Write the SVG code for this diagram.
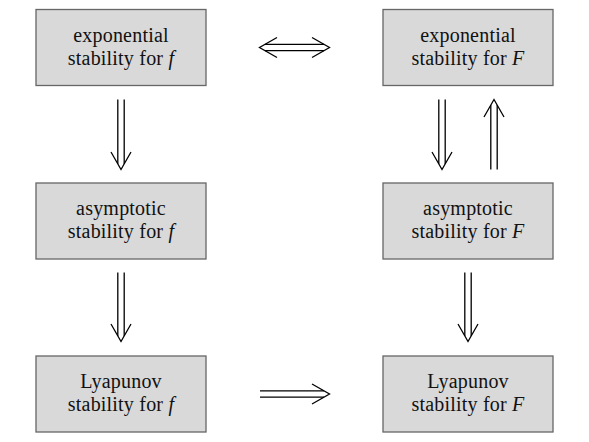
<svg xmlns="http://www.w3.org/2000/svg" width="589" height="442" viewBox="0 0 589 442">
<style>
.box{fill:#d9d9d9;stroke:#666;stroke-width:1.3}
.t{font-family:"Liberation Serif","Times New Roman",serif;font-size:20px;letter-spacing:0.2px;fill:#111;text-anchor:middle}
.it{font-style:italic}
.a{fill:none;stroke:#000;stroke-width:1.3;stroke-linecap:butt;stroke-linejoin:miter}
</style>
<rect width="589" height="442" fill="#fff"/>
<g id="expF">
<rect class="box" x="36" y="9.5" width="170" height="76"/>
<text class="t" x="121" y="41.5">exponential</text>
<text class="t" x="121" y="64.5">stability for <tspan class="it">f</tspan></text>
</g>
<g id="expFF">
<rect class="box" x="383" y="9.5" width="170" height="76"/>
<text class="t" x="468" y="41.5">exponential</text>
<text class="t" x="468" y="64.5">stability for <tspan class="it">F</tspan></text>
</g>
<g id="asyF">
<rect class="box" x="36" y="183" width="170" height="76"/>
<text class="t" x="121" y="215">asymptotic</text>
<text class="t" x="121" y="238">stability for <tspan class="it">f</tspan></text>
</g>
<g id="asyFF">
<rect class="box" x="383" y="183" width="170" height="76"/>
<text class="t" x="468" y="215">asymptotic</text>
<text class="t" x="468" y="238">stability for <tspan class="it">F</tspan></text>
</g>
<g id="lyaF">
<rect class="box" x="36" y="356" width="170" height="76"/>
<text class="t" x="121" y="388">Lyapunov</text>
<text class="t" x="121" y="411">stability for <tspan class="it">f</tspan></text>
</g>
<g id="lyaFF">
<rect class="box" x="383" y="356" width="170" height="76"/>
<text class="t" x="468" y="388">Lyapunov</text>
<text class="t" x="468" y="411">stability for <tspan class="it">F</tspan></text>
</g>
<g id="connectors">
<path class="a" d="M265 44.3H324M265 50.7H324"/>
<path class="a" d="M277 37.5L259.5 47.5L277 57.5"/>
<path class="a" d="M312 37.5L329.5 47.5L312 57.5"/>
<path class="a" d="M260 390.8H324M260 397.2H324"/>
<path class="a" d="M312 384L329.5 394L312 404"/>
<path class="a" d="M117.8 99.5V164M124.2 99.5V164"/>
<path class="a" d="M111 152L121 169.5L131 152"/>
<path class="a" d="M117.8 272.5V336M124.2 272.5V336"/>
<path class="a" d="M111 324L121 341.5L131 324"/>
<path class="a" d="M438.8 99.5V164M445.2 99.5V164"/>
<path class="a" d="M432 152L442 169.5L452 152"/>
<path class="a" d="M490.8 105V169.5M497.2 105V169.5"/>
<path class="a" d="M484 117L494 99.5L504 117"/>
<path class="a" d="M464.8 272.5V336M471.2 272.5V336"/>
<path class="a" d="M458 324L468 341.5L478 324"/>
</g>
</svg>
